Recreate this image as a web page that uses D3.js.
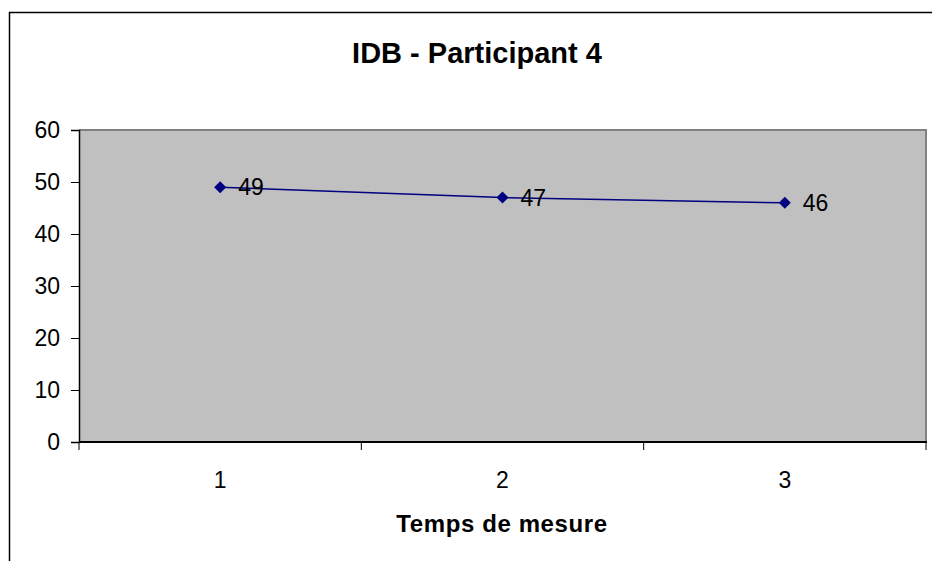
<!DOCTYPE html>
<html>
<head>
<meta charset="utf-8">
<script src="https://cdn.jsdelivr.net/npm/d3@7"></script>
<style>
  body { margin: 0; background: #fff; }
  text { font-family: "Liberation Sans", Arial, sans-serif; }
</style>
</head>
<body>
<svg id="main"></svg>
<script>
var categories = ["1", "2", "3"];
var values = [49, 47, 46];
var yTicks = [0, 10, 20, 30, 40, 50, 60];
var title = "IDB - Participant 4";
var xTitle = "Temps de mesure";

var w = 932;
var h = 561;
var padLeft = 79, padRight = 926, padTop = 130, padBottom = 442;

var svg = d3.select("#main")
  .attr("width", w)
  .attr("height", h);

// outer chart frame (runs off the page on right and bottom)
svg.append("rect")
  .attr("x", 9.5).attr("y", 12.5)
  .attr("width", 1000).attr("height", 1000)
  .attr("fill", "#fff")
  .attr("stroke", "#000")
  .attr("stroke-width", 1.5);

var xScale = d3.scaleBand()
  .domain(categories)
  .range([padLeft, padRight]);

var yScale = d3.scaleLinear()
  .domain([0, 60])
  .range([padBottom, padTop]);

// plot area
svg.append("rect")
  .attr("x", padLeft).attr("y", padTop)
  .attr("width", padRight - padLeft).attr("height", padBottom - padTop)
  .attr("fill", "#c0c0c0");
svg.append("line")
  .attr("x1", padLeft).attr("x2", padRight + 1)
  .attr("y1", padTop).attr("y2", padTop)
  .attr("stroke", "#808080").attr("stroke-width", 2);
svg.append("line")
  .attr("x1", padRight).attr("x2", padRight)
  .attr("y1", padTop).attr("y2", padBottom)
  .attr("stroke", "#808080").attr("stroke-width", 2);

// y axis
var yAxis = d3.axisLeft(yScale)
  .tickValues(yTicks)
  .tickSize(8)
  .tickPadding(11);
var gy = svg.append("g")
  .attr("transform", "translate(" + padLeft + ",0)")
  .call(yAxis);
gy.select(".domain").attr("stroke", "#000").attr("stroke-width", 1.5);
gy.selectAll(".tick line").attr("stroke", "#000");
gy.selectAll(".tick text")
  .attr("font-size", 23)
  .attr("fill", "#000")
  .style("font-family", "'Liberation Sans', Arial, sans-serif");

// x axis: ticks at category boundaries
var boundaries = categories.map(function(c) { return xScale(c); }).concat([padRight]);
var gx = svg.append("g")
  .attr("transform", "translate(0," + padBottom + ")");
gx.append("line")
  .attr("x1", padLeft).attr("x2", padRight + 1)
  .attr("y1", 0).attr("y2", 0)
  .attr("stroke", "#000").attr("stroke-width", 2);
gx.selectAll(".bt")
  .data(boundaries)
  .enter().append("line")
  .attr("x1", function(d) { return d; })
  .attr("x2", function(d) { return d; })
  .attr("y1", 0).attr("y2", 8)
  .attr("stroke", "#000");
gx.selectAll(".xl")
  .data(categories)
  .enter().append("text")
  .attr("x", function(d) { return xScale(d) + xScale.bandwidth() / 2; })
  .attr("y", 46)
  .attr("text-anchor", "middle")
  .attr("font-size", 23)
  .text(function(d) { return d; });

// series line
var line = d3.line()
  .x(function(d, i) { return xScale(categories[i]) + xScale.bandwidth() / 2; })
  .y(function(d) { return yScale(d); });

svg.append("path")
  .datum(values)
  .attr("d", line)
  .attr("fill", "none")
  .attr("stroke", "#000080")
  .attr("stroke-width", 1.5);

svg.selectAll(".pt")
  .data(values)
  .enter().append("path")
  .attr("d", d3.symbol(d3.symbolDiamond2, 92))
  .attr("transform", function(d, i) {
    return "translate(" + (xScale(categories[i]) + xScale.bandwidth() / 2) + "," + yScale(d) + ")";
  })
  .attr("fill", "#000080");

svg.selectAll(".lbl")
  .data(values)
  .enter().append("text")
  .attr("x", function(d, i) { return xScale(categories[i]) + xScale.bandwidth() / 2 + 18; })
  .attr("y", function(d) { return yScale(d) + 8; })
  .attr("font-size", 23)
  .text(function(d) { return d; });

// titles
svg.append("text")
  .attr("x", 477).attr("y", 63)
  .attr("text-anchor", "middle")
  .attr("font-size", 29)
  .attr("font-weight", "bold")
  .text(title);

svg.append("text")
  .attr("x", 502).attr("y", 532)
  .attr("text-anchor", "middle")
  .attr("font-size", 24)
  .attr("font-weight", "bold")
  .attr("letter-spacing", 0.6)
  .text(xTitle);
</script>
</body>
</html>
